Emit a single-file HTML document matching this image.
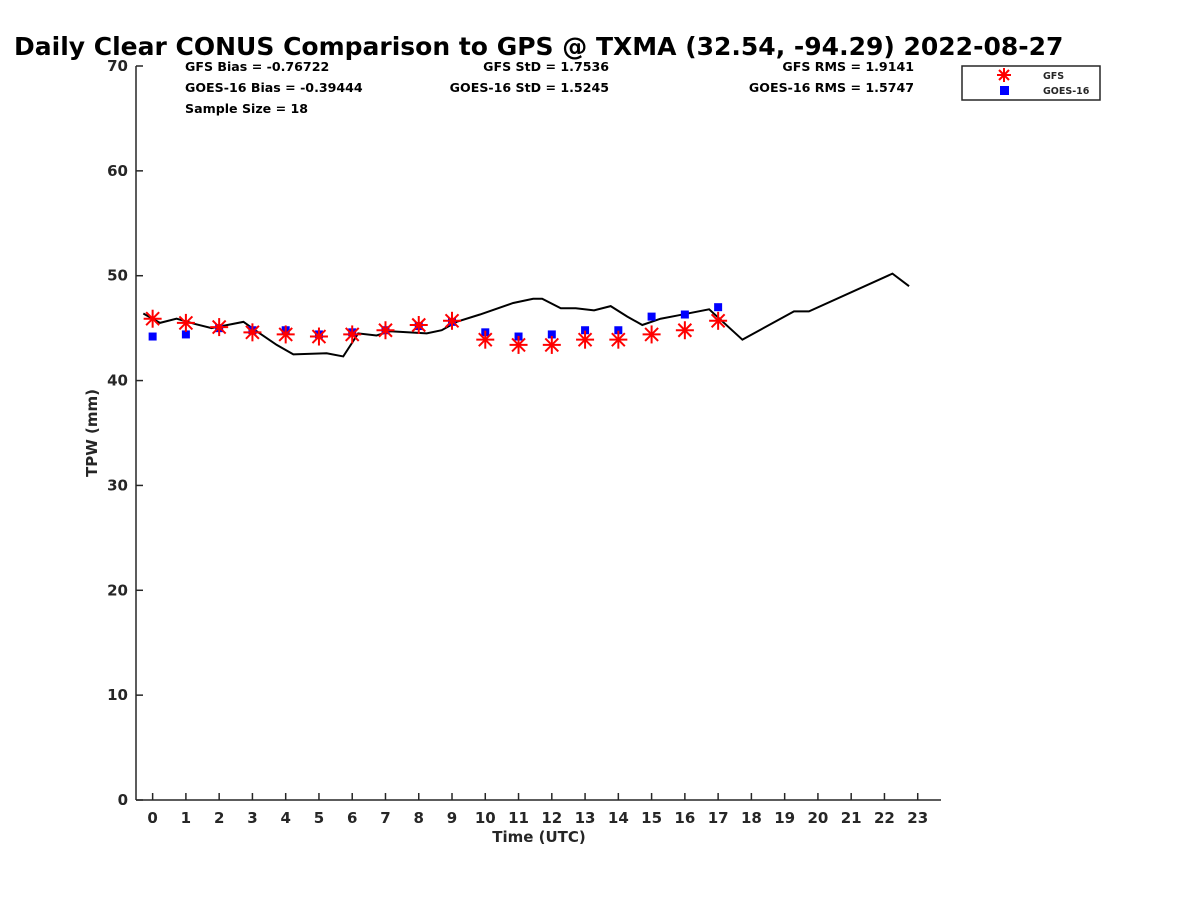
<!DOCTYPE html>
<html><head><meta charset="utf-8">
<style>
html,body{margin:0;padding:0;background:#fff;}
svg text{font-family:"DejaVu Sans","Liberation Sans",sans-serif;font-weight:bold;fill:#262626;}
</style></head>
<body>
<svg id="chart" width="1200" height="900" viewBox="0 0 1200 900" xmlns="http://www.w3.org/2000/svg">
<rect width="1200" height="900" fill="#fff"/>
<text x="14" y="55" font-size="25" style="fill:#000">Daily Clear CONUS Comparison to GPS @ TXMA (32.54, -94.29) 2022-08-27</text>
<g font-size="12.6">
<text x="185" y="71" style="fill:#000">GFS Bias = -0.76722</text>
<text x="185" y="92" style="fill:#000">GOES-16 Bias = -0.39444</text>
<text x="185" y="113" style="fill:#000">Sample Size = 18</text>
<text x="609" y="71" text-anchor="end" style="fill:#000">GFS StD = 1.7536</text>
<text x="609" y="92" text-anchor="end" style="fill:#000">GOES-16 StD = 1.5245</text>
<text x="914" y="71" text-anchor="end" style="fill:#000">GFS RMS = 1.9141</text>
<text x="914" y="92" text-anchor="end" style="fill:#000">GOES-16 RMS = 1.5747</text>
</g>
<g id="axes"></g>
<g id="marks"></g>
<g>
<rect x="962" y="66" width="138" height="34" fill="#fff" stroke="#262626" stroke-width="1.5"/>
<g stroke="#ff0000" stroke-width="2">
<line x1="1004" y1="68" x2="1004" y2="82"/><line x1="997" y1="75" x2="1011" y2="75"/>
<line x1="999" y1="70" x2="1009" y2="80"/><line x1="999" y1="80" x2="1009" y2="70"/>
</g>
<rect x="1000" y="86" width="9" height="9" fill="#0000ff"/>
<text x="1043" y="79" font-size="9.5">GFS</text>
<text x="1043" y="94" font-size="9.5">GOES-16</text>
</g>
</svg>
<script>
const hours = [0,1,2,3,4,5,6,7,8,9,10,11,12,13,14,15,16,17];
const gfsValues = [45.9,45.5,45.1,44.6,44.4,44.2,44.4,44.8,45.3,45.7,43.9,43.4,43.4,43.9,43.9,44.4,44.8,45.7];
const goesValues = [44.2,44.4,45.0,44.8,44.8,44.4,44.6,44.8,45.2,45.6,44.6,44.2,44.4,44.8,44.8,46.1,46.3,47.0];
const gpsTimes = [-0.28,0.22,0.72,1.27,1.77,2.73,3.13,3.73,4.23,5.23,5.73,6.18,6.73,7.14,8.24,8.69,9.14,9.84,10.84,11.44,11.71,12.27,12.72,13.27,13.77,14.27,14.72,15.27,15.77,16.73,17.73,19.28,19.73,22.24,22.74];
const gpsValues = [46.4,45.5,45.9,45.4,45.0,45.6,44.7,43.4,42.5,42.6,42.3,44.5,44.3,44.7,44.5,44.8,45.6,46.3,47.4,47.8,47.8,46.9,46.9,46.7,47.1,46.1,45.3,45.9,46.2,46.8,43.9,46.6,46.6,50.2,49.0];
const xTicks = [0,1,2,3,4,5,6,7,8,9,10,11,12,13,14,15,16,17,18,19,20,21,22,23];
const yTicks = [0,10,20,30,40,50,60,70];

const NS="http://www.w3.org/2000/svg";
const L=136,R=941,T=66,B=800,XMIN=-0.5,XMAX=23.7,YMIN=0,YMAX=70;
const xs=v=>L+(v-XMIN)/(XMAX-XMIN)*(R-L);
const ys=v=>B-(v-YMIN)/(YMAX-YMIN)*(B-T);
function mk(tag,attrs,parent){const e=document.createElementNS(NS,tag);for(const k in attrs)e.setAttribute(k,attrs[k]);parent.appendChild(e);return e;}
const axes=document.getElementById('axes'),marks=document.getElementById('marks');
let a=mk('line',{x1:L,y1:B,x2:R,y2:B,stroke:'#262626','stroke-width':1.5},axes);


a=mk('line',{x1:L,y1:T,x2:L,y2:B,stroke:'#262626','stroke-width':1.5},axes);


xTicks.forEach(t=>{const x=xs(t);
 mk('line',{x1:x,y1:B,x2:x,y2:B-7,stroke:'#262626','stroke-width':1.5},axes);
 const tx=mk('text',{x:x,y:B+23,'font-size':15,'text-anchor':'middle'},axes);tx.textContent=t;
 
 });
yTicks.forEach(t=>{const y=ys(t);
 mk('line',{x1:L,y1:y,x2:L+7,y2:y,stroke:'#262626','stroke-width':1.5},axes);
 const tx=mk('text',{x:L-8,y:y+5,'font-size':15,'text-anchor':'end'},axes);tx.textContent=t;
 
 });
let xt=mk('text',{x:539,y:842,'font-size':15,'text-anchor':'middle'},axes);xt.textContent='Time (UTC)';


let yt=mk('text',{x:0,y:0,'font-size':15,'text-anchor':'middle',transform:'translate(97,433) rotate(-90)'},axes);yt.textContent='TPW (mm)';


const line=mk('polyline',{points:gpsTimes.map((t,i)=>xs(t)+','+ys(gpsValues[i])).join(' '),fill:'none',stroke:'#000','stroke-width':2},marks);


hours.forEach((h,i)=>{const x=xs(h),y=ys(goesValues[i]);
 const r=mk('rect',{x:x-4,y:y-4,width:8,height:8,fill:'#0000ff'},marks);
 
 });
hours.forEach((h,i)=>{const x=xs(h),y=ys(gfsValues[i]);
 const g=mk('g',{stroke:'#ff0000','stroke-width':2},marks);
 
 
 mk('line',{x1:x,y1:y-9,x2:x,y2:y+9},g);mk('line',{x1:x-9,y1:y,x2:x+9,y2:y},g);
 mk('line',{x1:x-6.5,y1:y-6.5,x2:x+6.5,y2:y+6.5},g);mk('line',{x1:x-6.5,y1:y+6.5,x2:x+6.5,y2:y-6.5},g);});
</script>
</body></html>
